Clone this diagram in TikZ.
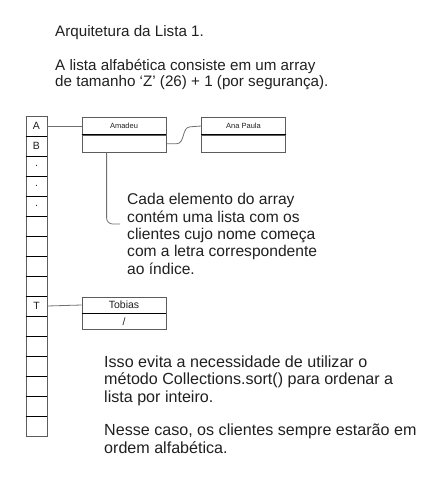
\documentclass[tikz,border=0pt]{standalone}
\usepackage{fontspec}
\setmainfont{Liberation Sans}
\usetikzlibrary{positioning,calc}
\definecolor{boxgray}{HTML}{5C5C5C}
\definecolor{linegray}{HTML}{707070}
\definecolor{textblack}{HTML}{202020}

\begin{document}
\begin{tikzpicture}[x=1pt,y=-1pt,
cellbox/.style={rectangle, draw=boxgray, line width=0.8pt, minimum width=21pt, minimum height=20pt, inner sep=0pt, text=textblack, font=\fontsize{10.5}{12}\selectfont},
field/.style={rectangle, draw=boxgray, line width=0.8pt, minimum width=84pt, minimum height=17pt, inner sep=0pt, text=textblack, font=\fontsize{7.5}{9}\selectfont},
divider/.style={black, line width=1pt},
link/.style={draw=linegray, line width=0.8pt},
note/.style={anchor=base west, align=left, inner sep=0pt, text=textblack, font=\fontsize{15.6}{17.3}\selectfont},
header/.style={note, font=\fontsize{15.2}{16.3}\selectfont}
]
\useasboundingbox (0,0) rectangle (432,500);
\node[header] (title) at (55,37) {Arquitetura da Lista 1.};
\node[header] (intro) at (55,87) {A lista alfabética consiste em um array\\de tamanho ‘Z’ (26) + 1 (por segurança).};
% array of letters
\foreach \lbl [count=\i from 0] in {A,B,.,.,.,{},{},{},{},T,{},{},{},{},{},{}}
  \node[cellbox] (cell\i) at (36.5,{126+20*\i}) {\lbl};
\foreach \i in {0,...,14}
  \draw[divider] (cell\i.south west) -- (cell\i.south east);
% lists
\node[field] (amadeu) at (124,126) {Amadeu};
\node[field, below=0pt of amadeu] (amadeunext) {};
\draw[divider] (amadeu.south west) -- (amadeu.south east);
\node[field] (anapaula) at (243.5,126) {Ana Paula};
\node[field, below=0pt of anapaula] (anapaulanext) {};
\draw[divider] (anapaula.south west) -- (anapaula.south east);
\node[field, minimum height=16pt, font=\fontsize{10.5}{12}\selectfont] (tobias) at (124,305) {Tobias};
\node[field, minimum height=16pt, font=\fontsize{10.5}{12}\selectfont, below=0pt of tobias] (tobiasnext) {/};
\draw[divider] (tobias.south west) -- (tobias.south east);
\draw[link] (cell0.east) -- (amadeu.west);
\draw[link] (cell9.east) -- (tobias.west);
\draw[link] (amadeunext.east) -- ++(10,0) .. controls +(9,0) and +(-9,0) .. ++(14,-17) -- (anapaula.west);
% notes
\node[note] (cadanote) at (127,274) {Cada elemento do array\\contém uma lista com os\\clientes cujo nome começa\\com a letra correspondente\\ao índice.};
\coordinate (hookend) at (120,224);
\draw[link, rounded corners=6pt] ($(amadeunext.south west)+(25,0)$) |- (hookend);
\node[note, font=\fontsize{16.1}{17.5}\selectfont] (issonote) at (104,402) {Isso evita a necessidade de utilizar o\\método Collections.sort() para ordenar a\\lista por inteiro.};
\node[note, font=\fontsize{16.1}{17.5}\selectfont] (nessenote) at (104,453) {Nesse caso, os clientes sempre estarão em\\ordem alfabética.};
\end{tikzpicture}
\end{document}
